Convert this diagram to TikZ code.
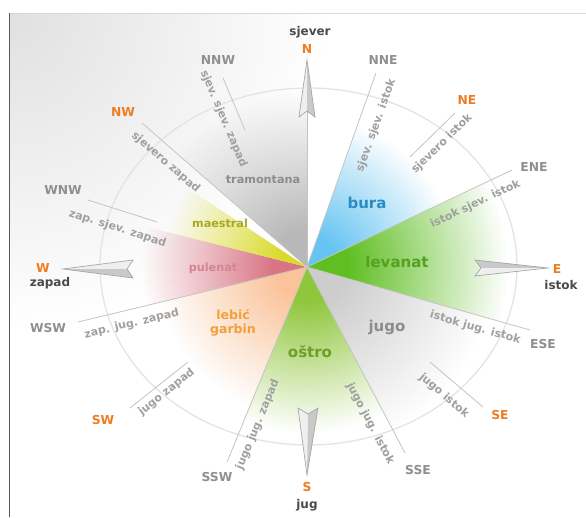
\documentclass[tikz,border=0pt]{standalone}
\usepackage{fontspec}
\setmainfont{DejaVu Sans}
\usetikzlibrary{calc, fadings}

\definecolor{dirorange}{HTML}{EE7D22}
\definecolor{dirgray}{HTML}{8F8F8F}
\definecolor{sidegray}{HTML}{4A4A4A}
\definecolor{labgray}{HTML}{A0A0A0}
\definecolor{raygray}{HTML}{C4C4C4}
\definecolor{ringgray}{HTML}{E4E4E4}
\definecolor{needleline}{HTML}{A8A8A8}
\definecolor{needlelight}{HTML}{EFEFEF}
\definecolor{needledark}{HTML}{C9C9C9}
\definecolor{bggray}{HTML}{E0E0E0}
\definecolor{trama}{HTML}{B8B8B8}
\definecolor{buraa}{HTML}{66C4F2}
\definecolor{levaa}{HTML}{5FBE22}
\definecolor{jugoa}{HTML}{CDCDCD}
\definecolor{ostra}{HTML}{8FC63C}
\definecolor{lebia}{HTML}{FAC39A}
\definecolor{pulea}{HTML}{D97484}
\definecolor{maesa}{HTML}{DADA2E}
\definecolor{buratext}{HTML}{2B8CC4}
\definecolor{levatext}{HTML}{55A022}
\definecolor{ostrtext}{HTML}{6D9E2A}
\definecolor{lebitext}{HTML}{F0A03C}
\definecolor{puletext}{HTML}{D48494}
\definecolor{maestext}{HTML}{A8A828}
\definecolor{graytext}{HTML}{8C8C8C}

\pgfdeclareradialshading{windmask}{\pgfpointorigin}{color(0bp)=(white); color(5bp)=(white); color(25bp)=(black); color(50bp)=(black)}
\begin{tikzfadingfrompicture}[name=windout]
	\fill[black] (-50bp,-50bp) rectangle (50bp,50bp);
	\shade[shading=windmask] (0,0) circle (25bp);
\end{tikzfadingfrompicture}

\begin{document}
\begin{tikzpicture}[x=1pt, y=-1pt,
		mainpt/.style={text=dirorange, inner sep=0, font=\bfseries\fontsize{12.3}{13}\selectfont},
		subpt/.style={text=dirgray, inner sep=0, font=\bfseries\fontsize{12.3}{13}\selectfont},
		sidename/.style={text=sidegray, inner sep=0, font=\bfseries\fontsize{12}{13}\selectfont},
		ray/.style={draw=raygray, line width=0.8pt},
		raylab/.style={sloped, below=4.5pt, inner sep=0, text=labgray, font=\bfseries\fontsize{11}{12}\selectfont},
		needle/.style={draw=needleline, line width=0.7pt},
		sector/.style={path fading=windout},
		wind/.style={inner sep=0, font=\bfseries\fontsize{11.2}{12}\selectfont},
		bigwind/.style={inner sep=0, font=\bfseries\fontsize{15}{16}\selectfont}]
		\useasboundingbox (0,0) rectangle (586,517);
		\fill[white] (0,0) rectangle (586,517);
		\begin{scope}
			\clip (9,13) rectangle (586,517);
			\shade[inner color=bggray, outer color=white] (9,13) circle (320);
		\end{scope}
		\draw[black!15, line width=0.6pt] (9,13) -- (586,13);
		\draw[black!65, line width=0.8pt] (9,13) -- (9,517);
		
		\coordinate (O) at (307,267);
		\coordinate (n) at (307,111);
		\coordinate (nne) at (376,73);
		\coordinate (ne1) at (410,157);
		\coordinate (ne2) at (455,113);
		\coordinate (ene) at (512,170);
		\coordinate (ese) at (530,330);
		\coordinate (se1) at (430,362);
		\coordinate (se2) at (483,407);
		\coordinate (sse) at (405,453);
		\coordinate (ssw) at (227,462);
		\coordinate (sw1) at (130,408);
		\coordinate (sw2) at (188,362);
		\coordinate (wsw) at (78,322);
		\coordinate (wnw1) at (88,200);
		\coordinate (wnw2) at (157,222);
		\coordinate (nw) at (142,123);
		\coordinate (nnw1) at (223,78);
		\coordinate (nnw2) at (245,130);
		\coordinate (ptop) at (187,237);
		\coordinate (mtop) at (213,205);
		
		% wind sectors
		\begin{scope}
			\clip (O) -- ($(O)!3!(nw)$) -- ($(O)!3!(n)$) -- cycle;
			\fill[trama, sector] (O) circle (175);
		\end{scope}
		\begin{scope}
			\clip (O) -- ($(O)!3!(nne)$) -- ($(O)!3!(ene)$) -- cycle;
			\fill[buraa, sector] (O) circle (150);
		\end{scope}
		\begin{scope}
			\clip (O) -- ($(O)!3!(ene)$) -- ($(O)!3!(ese)$) -- cycle;
			\fill[levaa, sector] (O) circle (200);
		\end{scope}
		\begin{scope}
			\clip (O) -- ($(O)!3!(ese)$) -- ($(O)!3!(sse)$) -- cycle;
			\fill[jugoa, sector] (O) circle (185);
		\end{scope}
		\begin{scope}
			\clip (O) -- ($(O)!3!(sse)$) -- ($(O)!3!(ssw)$) -- cycle;
			\fill[ostra, sector] (O) circle (165);
		\end{scope}
		\begin{scope}
			\clip (O) -- ($(O)!3!(ssw)$) -- ($(O)!3!(wsw)$) -- cycle;
			\fill[lebia, sector] (O) circle (150);
		\end{scope}
		\begin{scope}
			\clip (O) -- ($(O)!3!(wsw)$) -- ($(O)!3!(ptop)$) -- cycle;
			\fill[pulea, sector] (O) circle (165);
		\end{scope}
		\begin{scope}
			\clip (O) -- ($(O)!3!(ptop)$) -- ($(O)!3!(mtop)$) -- cycle;
			\fill[maesa, sector] (O) circle (145);
		\end{scope}
		
		\draw[ringgray, line width=1.3pt] (308.5,266.5) ellipse [x radius=208.5, y radius=178.5];
		
		% direction lines
		\draw[ray] (O) -- node[raylab, pos=0.76, below=7.5pt] {sjev. sjev. istok} (nne);
		\draw[ray] (ne1) -- node[raylab, pos=0.51, below=2.6pt] {sjevero istok} (ne2);
		\draw[ray] (O) -- node[raylab, pos=0.79, below=5pt] {istok sjev. istok} (ene);
		\draw[ray] (O) -- node[raylab, pos=0.77, below=2.4pt] {istok jug. istok} (ese);
		\draw[ray] (se1) -- node[raylab, pos=0.47, below=6.5pt] {jugo istok} (se2);
		\draw[ray] (O) -- node[raylab, pos=0.80, below=6.8pt] {jugo jug. istok} (sse);
		\draw[ray] (ssw) -- node[raylab, pos=0.22, below=3.9pt] {jugo jug. zapad} (O);
		\draw[ray] (sw1) -- node[raylab, pos=0.52] {jugo zapad} (sw2);
		\draw[ray] (wsw) -- node[raylab, pos=0.22, below=4.1pt] {zap. jug. zapad} (O);
		\draw[ray] (wnw1) -- node[raylab, pos=0.51, below=8pt] {zap. sjev. zapad} (wnw2);
		\draw[ray] (nw) -- node[raylab, pos=0.2, below=3.9pt] {sjevero zapad} (O);
		\draw[ray] (nnw1) -- node[raylab, pos=0.67, below=5.2pt] {sjev. sjev. zapad} (nnw2);
		\draw[ray] (n) -- (O);
		
		% needles
		\fill[needlelight] (307,60) -- (299,117) -- (307,111) -- cycle;
		\fill[needledark] (307,60) -- (315,117) -- (307,111) -- cycle;
		\draw[needle] (307,60) -- (315,117) -- (307,111) -- (299,117) -- cycle;
		\fill[needlelight] (307,475) -- (298,408) -- (308,414) -- cycle;
		\fill[needledark] (307,475) -- (318,408) -- (308,414) -- cycle;
		\draw[needle] (307,475) -- (318,408) -- (308,414) -- (298,408) -- cycle;
		\fill[needlelight] (63,269) -- (133,260) -- (127,269) -- cycle;
		\fill[needledark] (63,269) -- (133,278) -- (127,269) -- cycle;
		\draw[needle] (63,269) -- (133,260) -- (127,269) -- (133,278) -- cycle;
		\fill[needledark] (548,268) -- (475,260) -- (481,268) -- cycle;
		\fill[needlelight] (548,268) -- (475,276) -- (481,268) -- cycle;
		\draw[needle] (548,268) -- (475,260) -- (481,268) -- (475,276) -- cycle;
		
		% compass points
		\node[sidename] (sjever) at (310,32) {sjever};
		\node[mainpt] (N) at (307,49) {N};
		\node[subpt] (NNE) at (383,60) {NNE};
		\node[mainpt] (NE) at (467,100) {NE};
		\node[subpt] (ENE) at (534,167) {ENE};
		\node[mainpt] (E) at (557,269) {E};
		\node[sidename] (istok) at (561,285) {istok};
		\node[subpt] (ESE) at (543,344) {ESE};
		\node[mainpt] (SE) at (500,415) {SE};
		\node[subpt] (SSE) at (418,470) {SSE};
		\node[mainpt] (S) at (307,487) {S};
		\node[sidename] (jug) at (307,505) {jug};
		\node[subpt] (SSW) at (217,477) {SSW};
		\node[mainpt] (SW) at (103,420) {SW};
		\node[subpt] (WSW) at (48,328) {WSW};
		\node[mainpt] (W) at (43,268) {W};
		\node[sidename] (zapad) at (50,283) {zapad};
		\node[subpt] (WNW) at (63,190) {WNW};
		\node[mainpt] (NW) at (123,112) {NW};
		\node[subpt] (NNW) at (218,60) {NNW};
		
		% winds
		\node[wind, text=graytext] (tramontana) at (263,180) {tramontana};
		\node[bigwind, text=buratext] (bura) at (367,203) {bura};
		\node[bigwind, text=levatext] (levanat) at (397,262) {levanat};
		\node[bigwind, text=graytext] (jugo) at (387,327) {jugo};
		\node[bigwind, text=ostrtext] (ostro) at (310,352) {oštro};
		\node[wind, text=lebitext, align=center, font=\bfseries\fontsize{12.5}{14}\selectfont] (lebic) at (233,323) {lebić\\garbin};
		\node[wind, text=puletext] (pulenat) at (213,268) {pulenat};
		\node[wind, text=maestext] (maestral) at (220,223) {maestral};
	\end{tikzpicture}
\end{document}
